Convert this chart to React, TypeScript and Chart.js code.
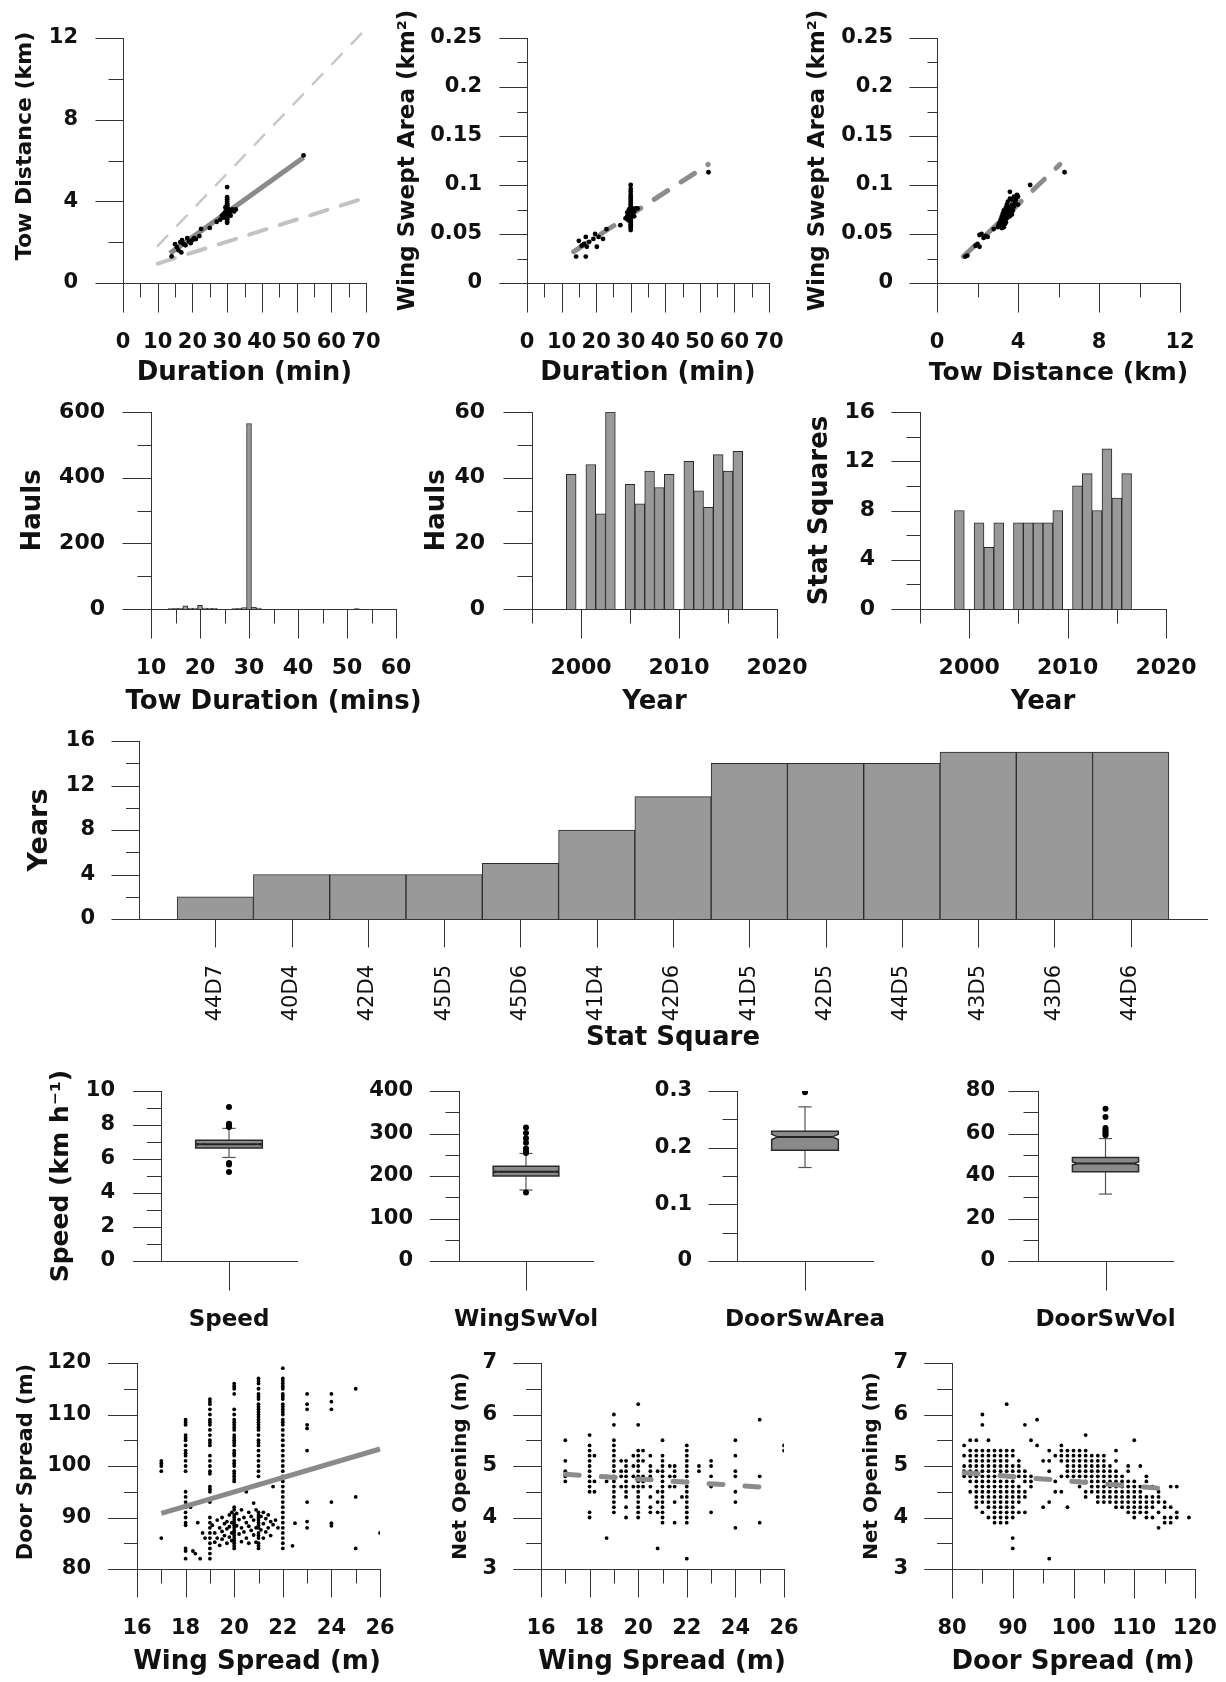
import React, { useEffect, useRef } from "react";
import { Chart, registerables } from "chart.js";
Chart.register(...registerables);

const FAMILY = "'DejaVu Sans', sans-serif";
const AXIS = "#333";
const TEXT = "#111";

// ---------------- DATA ----------------
// Row 1
const durDistUpper: [number, number][] = [[10, 1.82], [68.8, 12.24]];
const durDistLower: [number, number][] = [[10, 0.95], [68.5, 4.1]];
const durDistFit: [number, number][] = [[13.5, 1.45], [52, 6.15]];
const durDistPts: [number, number][] = [
  [14, 1.3], [15, 1.9], [15.5, 1.75], [16, 1.6], [16.5, 2.0], [16.8, 1.5], [17, 2.1], [17.5, 1.9], [18, 1.85], [18.5, 2.2],
  [19, 2.05], [19.5, 1.95], [20, 2.1], [20.5, 2.2], [21, 2.15], [22, 2.3], [22.5, 2.65], [25, 2.7], [27, 3.0], [28, 3.1],
  [28.5, 3.3], [29, 3.4], [29, 3.2], [29.5, 3.5], [29.5, 3.7], [30, 2.95], [30, 3.0], [30, 3.1], [30, 3.15], [30, 3.2],
  [30, 3.25], [30, 3.3], [30, 3.35], [30, 3.4], [30, 3.45], [30, 3.5], [30, 3.55], [30, 3.6], [30, 3.65], [30, 3.7],
  [30, 3.75], [30, 3.8], [30, 3.85], [30, 3.9], [30, 4.0], [30, 4.1], [30, 4.2], [30, 4.7], [30.5, 3.4], [30.5, 3.6],
  [31, 3.5], [31, 3.3], [31.5, 3.6], [32, 3.5], [32.5, 3.6], [52, 6.25],
];
const durAreaFit: [number, number][] = [[13.5, 0.032], [52.4, 0.121]];
const durAreaPts: [number, number][] = [
  [14.2, 0.027], [15, 0.043], [15.8, 0.038], [16.5, 0.04], [17, 0.047], [17, 0.027], [17.3, 0.037], [18, 0.042],
  [19.2, 0.045], [19.7, 0.05], [20.2, 0.037], [20.7, 0.047], [22, 0.045], [23, 0.055], [27, 0.059], [29.3, 0.064],
  [30, 0.054], [30, 0.056], [30, 0.058], [30, 0.06], [30, 0.062], [30, 0.064], [30, 0.066], [30, 0.068], [30, 0.07],
  [30, 0.072], [30, 0.074], [30, 0.076], [30, 0.078], [30, 0.08], [30, 0.082], [30, 0.084], [30, 0.086], [30, 0.088],
  [30, 0.09], [30, 0.093], [30, 0.096], [30, 0.1], [29, 0.068], [29, 0.072], [29.5, 0.075], [29.5, 0.066], [30.5, 0.07],
  [30.5, 0.076], [31, 0.073], [31, 0.068], [31.5, 0.076], [32, 0.076], [28.5, 0.066], [52.5, 0.113],
];
const distAreaFit: [number, number][] = [[1.3, 0.027], [6.07, 0.121]];
const distAreaPts: [number, number][] = [
  [1.4, 0.027], [1.5, 0.028], [1.9, 0.038], [2.0, 0.04], [2.1, 0.037], [2.1, 0.049], [2.2, 0.05], [2.3, 0.046],
  [2.4, 0.048], [2.5, 0.047], [2.8, 0.055], [3.0, 0.057], [3.05, 0.06], [3.1, 0.058], [3.1, 0.062], [3.15, 0.065],
  [3.2, 0.06], [3.2, 0.068], [3.25, 0.063], [3.25, 0.071], [3.3, 0.066], [3.3, 0.074], [3.35, 0.069], [3.35, 0.06],
  [3.4, 0.072], [3.4, 0.077], [3.45, 0.066], [3.45, 0.08], [3.5, 0.07], [3.5, 0.075], [3.5, 0.083], [3.55, 0.073],
  [3.6, 0.068], [3.6, 0.078], [3.6, 0.086], [3.6, 0.093], [3.65, 0.076], [3.7, 0.07], [3.7, 0.08], [3.7, 0.085],
  [3.75, 0.074], [3.8, 0.078], [3.8, 0.088], [3.85, 0.082], [3.9, 0.085], [3.95, 0.09], [4.0, 0.08], [4.0, 0.088],
  [3.2, 0.056], [3.3, 0.057], [3.4, 0.062], [4.6, 0.1], [6.3, 0.113],
];

// Row 2
const towDurBins = [14, 15, 16, 17, 18, 19, 20, 21, 22, 23, 27, 28, 29, 30, 31, 32, 52];
const towDurHauls = [1, 2, 2, 10, 2, 3, 11, 3, 2, 2, 1, 2, 4, 565, 6, 3, 1];
const surveyYears = [1999, 2001, 2002, 2003, 2005, 2006, 2007, 2008, 2009, 2011, 2012, 2013, 2014, 2015, 2016];
const haulsPerYear = [41, 44, 29, 60, 38, 32, 42, 37, 41, 45, 36, 31, 47, 42, 48];
const squaresPerYear = [8, 7, 5, 7, 7, 7, 7, 7, 8, 10, 11, 8, 13, 9, 11];

// Row 3
const statSquares = ["44D7", "40D4", "42D4", "45D5", "45D6", "41D4", "42D6", "41D5", "42D5", "44D5", "43D5", "43D6", "44D6"];
const yearsPerSquare = [2, 4, 4, 4, 5, 8, 11, 14, 14, 14, 15, 15, 15];

// Row 4 (box plots)
const boxNames = ["Speed", "WingSwVol", "DoorSwArea", "DoorSwVol"];
const boxLow = [6.09, 167, 0.165, 31.5];
const boxQ1 = [6.65, 200, 0.1955, 42];
const boxNotchLo = [6.83, 208.5, 0.2145, 45.2];
const boxMedian = [6.87, 210, 0.219, 45.9];
const boxNotchHi = [6.91, 211.5, 0.2235, 46.6];
const boxQ3 = [7.1, 223, 0.229, 48.7];
const boxHigh = [7.8, 253, 0.272, 57.6];
const boxOutliers = [
  [9.06, 8.08, 7.98, 7.88, 5.77, 5.68, 5.24],
  [314, 301, 289, 278, 264.6, 258, 254, 161],
  [0.298],
  [71.7, 67.8, 62.6, 61.5, 60.7, 59.9, 59.2],
];

// Row 5
const doorByWing: [number, number[]][] = [
  [17, [101, 100.5, 100, 99, 86]],
  [18, [109, 108.5, 108, 106, 105.5, 105, 104, 103, 102.5, 102, 101, 100, 99, 95, 94, 93, 92, 91, 90, 89, 88.5, 84, 83.5, 82]],
  [19, [113, 112.5, 112, 111, 110, 109, 108.5, 108, 107, 106, 105, 104.5, 104, 102, 101, 100, 99, 98.5, 96, 95.5, 95, 93, 90, 89, 88, 87, 86, 85, 84, 83, 82]],
  [20, [116, 115.5, 115, 114, 111, 110, 109, 108.5, 108, 107.5, 107, 106, 105.5, 105, 104.5, 104, 103, 102.5, 102, 101, 100.5, 100, 99, 98.5, 98, 97.5, 97]],
  [21, [117, 116.5, 116, 115, 114, 113.5, 113, 112, 111.5, 111, 110.5, 110, 109.5, 109, 108.5, 108, 107.5, 107, 106, 105, 104.5, 104, 103, 102, 101, 100, 99, 98, 96.5]],
  [22, [119, 117, 116.5, 116, 115.5, 115, 114, 113.5, 113, 112, 111.5, 111, 110.5, 110, 109, 108.5, 108, 107, 106, 105, 104, 103, 102, 101, 100, 99, 98, 97, 96, 95, 94, 93, 92, 91, 90, 89, 88, 87, 86, 85, 84]],
  [23, [114, 112, 111, 108, 107.3, 103, 93, 89.2, 88]],
  [24, [114, 112.5, 111, 93, 88.9, 88.4]],
  [25, [115, 94, 84]],
  [26, [87]],
];
const doorWingCloud: [number, number][] = [
  [18.2, 92], [18.3, 83.5], [18.4, 83], [18.6, 82], [18.7, 87], [18.5, 89], [18.8, 86],
  [19.1, 88.5], [19.2, 87], [19.2, 85.2], [19.3, 89.5], [19.3, 86], [19.4, 88], [19.4, 84.6], [19.5, 90], [19.5, 87.3],
  [19.5, 85.8], [19.6, 88.8], [19.6, 86.5], [19.7, 89.2], [19.7, 87.8], [19.7, 85], [19.8, 90.5], [19.8, 88.2], [19.8, 86.2],
  [19.9, 91], [19.9, 89], [19.9, 87], [19.9, 85.5], [20, 92], [20, 91.5], [20, 90.5], [20, 90], [20, 89.5], [20, 89],
  [20, 88.5], [20, 88], [20, 87.5], [20, 87], [20, 86.5], [20, 86], [20, 85.5], [20, 85], [20, 84.5], [20, 84],
  [20.1, 90.8], [20.1, 88.4], [20.2, 89.6], [20.2, 86.8], [20.3, 91.5], [20.3, 88], [20.3, 85.3], [20.4, 90], [20.4, 87.2],
  [20.5, 89], [20.5, 86], [20.5, 95], [20.6, 91], [20.6, 88.3], [20.6, 85], [20.7, 90.2], [20.7, 87.5], [20.8, 92.8],
  [20.8, 89.5], [20.8, 86.6], [20.9, 91.5], [20.9, 88], [20.9, 85.2], [21, 91], [21, 90.5], [21, 90], [21, 89.5], [21, 89],
  [21, 88.5], [21, 88], [21, 87], [21, 86.5], [21, 86], [21, 85], [21, 84.5], [21, 84], [21.1, 90.2], [21.1, 87.6],
  [21.2, 91], [21.2, 88.8], [21.2, 86], [21.3, 89.8], [21.3, 87.2], [21.4, 90.5], [21.4, 88], [21.5, 89.2], [21.5, 86.5],
  [21.6, 88.6], [21.6, 96], [21.7, 89.5], [21.8, 88], [22.4, 84.5], [22.5, 88.9],
];
const doorWingFit: [number, number][] = [[17, 90.8], [26, 103.3]];

const netByWing: [number, number[]][] = [
  [17, [5.5, 5.1, 4.9, 4.8, 4.7]],
  [18, [5.6, 5.4, 5.3, 5.2, 5.1, 5.0, 4.9, 4.8, 4.7, 4.6, 4.5, 4.1, 4.0]],
  [18.2, [5.2, 4.7, 4.5]],
  [18.7, [4.8, 4.7, 3.6]],
  [19, [6.0, 5.8, 5.5, 5.4, 5.3, 5.2, 5.1, 5.0, 4.9, 4.8, 4.7, 4.6, 4.5, 4.4, 4.3, 4.2, 4.1]],
  [19.3, [5.1, 4.9, 4.8, 4.6]],
  [19.5, [5.1, 5.0, 4.9, 4.8, 4.7, 4.6, 4.5, 4.4, 4.2, 4.0]],
  [19.8, [5.2, 5.0, 4.8, 4.6]],
  [20, [6.2, 5.8, 5.3, 5.2, 5.1, 5.0, 4.9, 4.8, 4.7, 4.6, 4.5, 4.4, 4.3, 4.2, 4.1, 4.0]],
  [20.2, [5.3, 5.1, 4.8, 4.7, 4.6]],
  [20.5, [5.2, 5.0, 4.9, 4.8, 4.6, 4.4, 4.2, 4.1]],
  [20.8, [4.9, 4.5, 4.3, 4.1, 3.4]],
  [21, [5.5, 5.2, 5.1, 5.0, 4.9, 4.8, 4.7, 4.6, 4.5, 4.4, 4.3, 4.2, 4.1, 4.0, 3.9]],
  [21.3, [5.0, 4.8, 4.6]],
  [21.5, [5.0, 4.9, 4.8, 4.6, 4.3, 3.9]],
  [21.8, [4.7, 4.4]],
  [22, [5.4, 5.3, 5.2, 5.1, 5.0, 4.9, 4.8, 4.7, 4.6, 4.5, 4.4, 4.3, 4.2, 4.1, 4.0, 3.9, 3.2]],
  [22.5, [5.0, 4.9]],
  [23, [5.1, 5.0, 4.8, 4.6, 4.1]],
  [24, [5.5, 5.2, 4.9, 4.8, 4.5, 4.3, 3.8]],
  [25, [5.9, 4.8, 3.9]],
  [26, [5.4, 5.3]],
];
const netWingFit: [number, number][] = [[17, 4.84], [25.4, 4.58]];

const netByDoor: [number, number[]][] = [
  [82, [5.4, 5.2, 5.0, 4.9, 4.8]],
  [83, [5.5, 5.3, 5.2, 5.1, 5.0, 4.9, 4.8, 4.7, 4.5]],
  [84, [5.5, 5.3, 5.2, 5.1, 5.0, 4.9, 4.8, 4.7, 4.6, 4.5, 4.4, 4.3, 4.2]],
  [85, [6.0, 5.8, 5.3, 5.2, 5.1, 5.0, 4.9, 4.8, 4.7, 4.6, 4.5, 4.4, 4.3, 4.1]],
  [86, [5.5, 5.3, 5.2, 5.1, 5.0, 4.9, 4.8, 4.7, 4.6, 4.5, 4.4, 4.3, 4.2, 4.0]],
  [87, [5.3, 5.2, 5.1, 5.0, 4.9, 4.8, 4.7, 4.6, 4.5, 4.4, 4.3, 4.2, 4.1, 4.0, 3.9]],
  [88, [5.3, 5.2, 5.1, 5.0, 4.9, 4.8, 4.7, 4.6, 4.5, 4.4, 4.3, 4.2, 4.1, 4.0, 3.9]],
  [89, [6.2, 5.3, 5.2, 5.1, 5.0, 4.9, 4.8, 4.7, 4.6, 4.5, 4.4, 4.3, 4.2, 4.1, 4.0, 3.9]],
  [90, [5.3, 5.2, 5.0, 4.9, 4.8, 4.7, 4.6, 4.5, 4.4, 4.3, 4.2, 4.1, 4.0, 3.6, 3.4]],
  [91, [5.1, 5.0, 4.9, 4.8, 4.6, 4.5, 4.4, 4.3, 4.1]],
  [92, [5.8, 4.9, 4.8, 4.7, 4.5, 4.4, 4.1]],
  [93, [5.5, 4.8, 4.7, 4.6]],
  [94, [5.9, 5.4]],
  [95, [5.1, 4.2]],
  [96, [5.3, 5.1, 4.9, 4.3, 3.2]],
  [97, [5.2, 4.7, 4.5]],
  [98, [5.4, 5.3, 5.2, 5.1, 4.8, 4.5]],
  [99, [5.3, 5.2, 5.1, 5.0, 4.9, 4.8, 4.2]],
  [100, [5.3, 5.2, 5.1, 5.0, 4.9, 4.8, 4.7]],
  [101, [5.3, 5.2, 5.1, 5.0, 4.9, 4.8, 4.7, 4.6]],
  [102, [5.6, 5.3, 5.2, 5.1, 5.0, 4.9, 4.8, 4.7, 4.5, 4.4]],
  [103, [5.2, 5.1, 5.0, 4.9, 4.8, 4.7, 4.6, 4.5]],
  [104, [5.2, 5.1, 5.0, 4.9, 4.8, 4.7, 4.6, 4.5, 4.4, 4.3]],
  [105, [5.2, 5.1, 5.0, 4.9, 4.8, 4.7, 4.6, 4.5, 4.4, 4.3]],
  [106, [5.0, 4.9, 4.8, 4.7, 4.6, 4.5, 4.4, 4.3]],
  [107, [5.3, 5.1, 4.9, 4.8, 4.7, 4.6, 4.5, 4.4, 4.3, 4.2]],
  [108, [4.8, 4.7, 4.6, 4.5, 4.4, 4.3, 4.2]],
  [109, [5.0, 4.9, 4.7, 4.6, 4.5, 4.4, 4.3, 4.2, 4.1]],
  [110, [5.5, 4.7, 4.6, 4.5, 4.4, 4.3, 4.2, 4.1, 4.0]],
  [111, [5.0, 4.6, 4.5, 4.4, 4.3, 4.2, 4.1]],
  [112, [4.8, 4.7, 4.4, 4.3, 4.2, 4.1, 4.0]],
  [113, [4.6, 4.4, 4.3, 4.2, 4.0]],
  [114, [4.5, 4.4, 4.3, 4.1, 3.8]],
  [115, [4.3, 4.2, 4.0, 3.9]],
  [116, [4.6, 4.2, 4.0, 3.9]],
  [117, [4.6, 4.1, 4.0]],
  [119, [4.0]],
];
const netDoorFit: [number, number][] = [[82, 4.87], [116, 4.55]];

// ---------------- HELPERS ----------------
type Ax = {
  min: number; max: number;
  major: number[]; minor?: number[];
  majorLen: number; minorLen?: number;
  pad: number; size: number; weight?: string;
  fmt?: (v: number) => string;
  rotate?: number;
  title?: string; titleSize?: number; titlePos?: number; titleAlong?: number;
};
type PanelSpec = {
  area: [number, number, number, number];
  m: [number, number, number, number];
  type: string;
  x: Ax; y: Ax;
  datasets: any[];
  extra?: any[];
};

const toXY = (a: [number, number][]) => a.map(([x, y]) => ({ x, y }));
const fromColumns = (cols: [number, number[]][]) => cols.flatMap(([x, ys]) => ys.map((y) => ({ x, y })));

function pts(data: any[], r = 2) {
  return { type: "scatter", data, pointRadius: r, pointHoverRadius: r, pointBackgroundColor: "#000", pointBorderWidth: 0, showLine: false };
}
function line(data: [number, number][], color: string, width: number, dash: number[] = []) {
  return {
    type: "line", data: toXY(data), borderColor: color, borderWidth: width, borderDash: dash,
    borderCapStyle: dash.length ? "round" : "butt", pointRadius: 0, fill: false, tension: 0, clip: false,
  };
}
function bars(xs: number[], ys: number[]) {
  return {
    type: "bar", data: xs.map((x, i) => ({ x, y: ys[i] })), backgroundColor: "#999", borderColor: "#2a2a2a",
    borderWidth: 1, barPercentage: 1, categoryPercentage: 1,
  };
}

function scaleOpts(a: Ax, axis: "x" | "y", spec: PanelSpec) {
  const [L, , , B] = spec.m;
  return {
    type: "linear", position: axis === "x" ? "bottom" : "left",
    min: a.min, max: a.max, offset: false,
    grid: { display: false, drawTicks: false },
    border: { display: true, color: AXIS, width: 1 },
    ticks: {
      autoSkip: false, padding: a.pad, maxRotation: a.rotate ?? 0, minRotation: a.rotate ?? 0,
      font: { family: FAMILY, size: a.size, weight: a.weight ?? "bold" }, color: TEXT,
      callback: (v: any) => (a.fmt ? a.fmt(Number(v)) : String(v)),
    },
    title: { display: false },
    afterBuildTicks: (s: any) => { s.ticks = a.major.map((v) => ({ value: v })); },
    afterFit: (s: any) => {
      if (axis === "x") s.height = B; else s.width = L;
      s.paddingLeft = 0; s.paddingRight = 0; s.paddingTop = 0; s.paddingBottom = 0;
    },
  };
}

// Tick marks (major long, minor short) and axis titles, placed from the chart's own scales
function axisDecor(spec: PanelSpec) {
  const xa = spec.x, ya = spec.y;
  const [x0, y0] = spec.area;
  const [L, T] = spec.m;
  return {
    id: "axisDecor",
    afterDraw(chart: any) {
      const { ctx, chartArea: ca, scales } = chart;
      ctx.save();
      ctx.strokeStyle = AXIS;
      ctx.lineWidth = 1;
      const seg = (a: number, b: number, c: number, d: number) => { ctx.beginPath(); ctx.moveTo(a, b); ctx.lineTo(c, d); ctx.stroke(); };
      const bx = Math.round(ca.bottom) + 0.5, lx = Math.round(ca.left) + 0.5;
      const doX = (vals: number[], len: number) => vals.forEach((v) => { const p = Math.round(scales.x.getPixelForValue(v)) + 0.5; seg(p, bx, p, bx + len); });
      const doY = (vals: number[], len: number) => vals.forEach((v) => { const p = Math.round(scales.y.getPixelForValue(v)) + 0.5; seg(lx, p, lx - len, p); });
      doX(xa.major, xa.majorLen); doX(xa.minor ?? [], xa.minorLen ?? 0);
      doY(ya.major, ya.majorLen); doY(ya.minor ?? [], ya.minorLen ?? 0);
      ctx.fillStyle = TEXT;
      ctx.textAlign = "center";
      ctx.textBaseline = "middle";
      if (xa.title) {
        ctx.font = `bold ${xa.titleSize ?? 24}px ${FAMILY}`;
        const cx = xa.titleAlong !== undefined ? xa.titleAlong - (x0 - L) : (ca.left + ca.right) / 2;
        ctx.fillText(xa.title, cx, (xa.titlePos ?? 0) - (y0 - T));
      }
      if (ya.title) {
        ctx.font = `bold ${ya.titleSize ?? 24}px ${FAMILY}`;
        const cy = ya.titleAlong !== undefined ? ya.titleAlong - (y0 - T) : (ca.top + ca.bottom) / 2;
        ctx.translate((ya.titlePos ?? 0) - (x0 - L), cy);
        ctx.rotate(-Math.PI / 2);
        ctx.fillText(ya.title, 0, 0);
      }
      ctx.restore();
    },
  };
}

const BOX_HALF = 0.49;
const STAPLE_FRAC = 0.2;
const NOTCH_FRAC = 0.18;
function boxDraw(i: number) {
  return {
    id: "boxDraw",
    beforeDatasetsDraw(chart: any) {
      const { ctx, scales: { x, y } } = chart;
      const cx = x.getPixelForValue(0);
      const hw = x.getPixelForValue(BOX_HALF) - cx;
      const sw = hw * STAPLE_FRAC, nw = hw * NOTCH_FRAC;
      const Y = (v: number) => y.getPixelForValue(v);
      const seg = (a: number, b: number, c: number, d: number) => { ctx.beginPath(); ctx.moveTo(a, b); ctx.lineTo(c, d); ctx.stroke(); };
      ctx.save();
      ctx.strokeStyle = "#555"; ctx.lineWidth = 1.2;
      seg(cx, Y(boxQ3[i]), cx, Y(boxHigh[i])); seg(cx, Y(boxQ1[i]), cx, Y(boxLow[i]));
      seg(cx - sw, Y(boxHigh[i]), cx + sw, Y(boxHigh[i])); seg(cx - sw, Y(boxLow[i]), cx + sw, Y(boxLow[i]));
      ctx.beginPath();
      ctx.moveTo(cx - hw, Y(boxQ1[i])); ctx.lineTo(cx - hw, Y(boxNotchLo[i])); ctx.lineTo(cx - hw + nw, Y(boxMedian[i]));
      ctx.lineTo(cx - hw, Y(boxNotchHi[i])); ctx.lineTo(cx - hw, Y(boxQ3[i])); ctx.lineTo(cx + hw, Y(boxQ3[i]));
      ctx.lineTo(cx + hw, Y(boxNotchHi[i])); ctx.lineTo(cx + hw - nw, Y(boxMedian[i])); ctx.lineTo(cx + hw, Y(boxNotchLo[i]));
      ctx.lineTo(cx + hw, Y(boxQ1[i])); ctx.closePath();
      ctx.fillStyle = "#8a8a8a"; ctx.fill();
      ctx.strokeStyle = "#2a2a2a"; ctx.lineWidth = 1.5; ctx.stroke();
      ctx.lineWidth = 2; ctx.strokeStyle = "#222";
      seg(cx - hw + nw, Y(boxMedian[i]), cx + hw - nw, Y(boxMedian[i]));
      ctx.restore();
    },
  };
}

function buildConfig(spec: PanelSpec): any {
  const [, T, R] = spec.m;
  return {
    type: spec.type,
    data: { datasets: spec.datasets },
    options: {
      responsive: false, animation: false, devicePixelRatio: 1, events: [],
      layout: { padding: { left: 0, top: T, right: R, bottom: 0 }, autoPadding: false },
      plugins: { legend: { display: false }, tooltip: { enabled: false } },
      scales: { x: scaleOpts(spec.x, "x", spec), y: scaleOpts(spec.y, "y", spec) },
    },
    plugins: [axisDecor(spec), ...(spec.extra ?? [])],
  };
}

function Panel({ spec }: { spec: PanelSpec }) {
  const ref = useRef<HTMLCanvasElement>(null);
  const [x0, y0, x1, y1] = spec.area;
  const [L, T, R, B] = spec.m;
  const W = x1 - x0 + L + R, H = y1 - y0 + T + B;
  useEffect(() => {
    const chart = new Chart(ref.current as HTMLCanvasElement, buildConfig(spec));
    return () => chart.destroy();
  }, []);
  return <canvas ref={ref} width={W} height={H} style={{ position: "absolute", left: x0 - L, top: y0 - T, width: W, height: H }} />;
}

// ---------------- PANELS ----------------
const durAxis = (pad: number): Ax => ({
  min: 0, max: 70, major: [0, 10, 20, 30, 40, 50, 60, 70], minor: [5, 15, 25, 35, 45, 55, 65],
  majorLen: 29, minorLen: 14, pad, size: 21, title: "Duration (min)", titleSize: 26, titlePos: 373,
});
const areaAxis = (pad: number, tx: number): Ax => ({
  min: 0, max: 0.25, major: [0, 0.05, 0.1, 0.15, 0.2, 0.25], minor: [0.025, 0.075, 0.125, 0.175, 0.225],
  majorLen: 28, minorLen: 10, pad, size: 21, title: "Wing Swept Area (km²)", titleSize: 23, titlePos: tx,
});
const yearAxis: Ax = {
  min: 1995, max: 2020, major: [2000, 2010, 2020], minor: [1995, 2005, 2015],
  majorLen: 29, minorLen: 14, pad: 46, size: 22, title: "Year", titleSize: 26, titlePos: 702,
};

const panels: PanelSpec[] = [
  {
    area: [123, 38, 366, 283], m: [123, 35, 30, 115], type: "scatter",
    x: durAxis(47.4),
    y: { min: 0, max: 12, major: [0, 4, 8, 12], minor: [2, 6, 10], majorLen: 28, minorLen: 15, pad: 45, size: 21, title: "Tow Distance (km)", titleSize: 22, titlePos: 25, titleAlong: 146 },
    datasets: [pts(toXY(durDistPts), 2.4), line(durDistFit, "#8a8a8a", 5), line(durDistUpper, "#c8c8c8", 2.5, [14, 14]), line(durDistLower, "#c2c2c2", 4, [18, 14])],
  },
  {
    area: [527, 38, 769, 283], m: [147, 36, 40, 115], type: "scatter",
    x: durAxis(47.4), y: areaAxis(45, 408),
    datasets: [pts(toXY(durAreaPts), 2.4), line(durAreaFit, "#8c8c8c", 5, [16, 16])],
  },
  {
    area: [937, 38, 1180, 283], m: [147, 36, 40, 115], type: "scatter",
    x: { min: 0, max: 12, major: [0, 4, 8, 12], minor: [2, 6, 10], majorLen: 29, minorLen: 14, pad: 47.4, size: 21, title: "Tow Distance (km)", titleSize: 25, titlePos: 373 },
    y: areaAxis(44, 818),
    datasets: [pts(toXY(distAreaPts), 2.4), line(distAreaFit, "#8c8c8c", 5, [16, 16])],
  },
  {
    area: [151, 412, 396, 609], m: [146, 25, 40, 115], type: "bar",
    x: { min: 10, max: 60, major: [10, 20, 30, 40, 50, 60], minor: [15, 25, 35, 45, 55], majorLen: 29, minorLen: 14, pad: 46, size: 22, title: "Tow Duration (mins)", titleSize: 26, titlePos: 702 },
    y: { min: 0, max: 600, major: [0, 200, 400, 600], minor: [100, 300, 500], majorLen: 29, minorLen: 14, pad: 46, size: 22, title: "Hauls", titleSize: 26, titlePos: 33 },
    datasets: [bars(towDurBins, towDurHauls)],
  },
  {
    area: [532, 412, 777, 609], m: [122, 25, 40, 115], type: "bar",
    x: yearAxis,
    y: { min: 0, max: 60, major: [0, 20, 40, 60], minor: [10, 30, 50], majorLen: 29, minorLen: 15, pad: 47, size: 22, title: "Hauls", titleSize: 26, titlePos: 437 },
    datasets: [bars(surveyYears, haulsPerYear)],
  },
  {
    area: [920, 412, 1166, 609], m: [125, 25, 45, 115], type: "bar",
    x: yearAxis,
    y: { min: 0, max: 16, major: [0, 4, 8, 12, 16], minor: [2, 6, 10, 14], majorLen: 29, minorLen: 14, pad: 45, size: 22, title: "Stat Squares", titleSize: 26, titlePos: 820 },
    datasets: [bars(surveyYears, squaresPerYear)],
  },
  {
    area: [139, 741, 1207, 919], m: [139, 20, 15, 140], type: "bar",
    x: {
      min: -1, max: statSquares.length, major: statSquares.map((_, i) => i), majorLen: 28, pad: 46, size: 21, weight: "normal",
      rotate: 90, fmt: (v) => statSquares[v] ?? "", title: "Stat Square", titleSize: 26, titlePos: 1038,
    },
    y: { min: 0, max: 16, major: [0, 4, 8, 12, 16], minor: [2, 6, 10, 14], majorLen: 28, minorLen: 13.5, pad: 44, size: 21, title: "Years", titleSize: 27, titlePos: 39.5 },
    datasets: [bars(statSquares.map((_, i) => i), yearsPerSquare)],
  },
];

const boxAreas: [number, number, number, number][] = [
  [161, 1091, 297, 1261], [459, 1091, 593, 1261], [737, 1091, 873, 1261], [1038, 1091, 1173, 1261],
];
const boxMargins: [number, number, number, number][] = [[131, 31, 20, 90], [100, 15, 20, 90], [90, 15, 20, 90], [85, 15, 30, 90]];
const boxY: Ax[] = [
  { min: 0, max: 10, major: [0, 2, 4, 6, 8, 10], minor: [1, 3, 5, 7, 9], majorLen: 28.4, minorLen: 14.6, pad: 46, size: 21, title: "Speed (km h⁻¹)", titleSize: 25, titlePos: 61 },
  { min: 0, max: 400, major: [0, 100, 200, 300, 400], minor: [50, 150, 250, 350], majorLen: 29.7, minorLen: 14, pad: 46, size: 21 },
  { min: 0, max: 0.3, major: [0, 0.1, 0.2, 0.3], minor: [0.05, 0.15, 0.25], majorLen: 29, minorLen: 15, pad: 45, size: 21 },
  { min: 0, max: 80, major: [0, 20, 40, 60, 80], minor: [10, 30, 50, 70], majorLen: 30, minorLen: 15, pad: 43, size: 21 },
];
boxNames.forEach((name, i) => {
  panels.push({
    area: boxAreas[i], m: boxMargins[i], type: "scatter",
    x: { min: -1, max: 1, major: [0], majorLen: 29, pad: 45.2, size: 23, fmt: () => name },
    y: boxY[i],
    datasets: [pts(boxOutliers[i].map((v) => ({ x: 0, y: v })), 3)],
    extra: [boxDraw(i)],
  });
});

const wingAxis = (along: number): Ax => ({
  min: 16, max: 26, major: [16, 18, 20, 22, 24, 26], minor: [17, 19, 21, 23, 25], majorLen: 28, minorLen: 14,
  pad: 46.7, size: 21, title: "Wing Spread (m)", titleSize: 26, titlePos: 1662, titleAlong: along,
});
const netAxis = (pad: number, tx: number): Ax => ({
  min: 3, max: 7, major: [3, 4, 5, 6, 7], minor: [3.5, 4.5, 5.5, 6.5], majorLen: 28.3, minorLen: 15.4,
  pad, size: 21, title: "Net Opening (m)", titleSize: 20, titlePos: tx,
});
panels.push(
  {
    area: [137, 1363, 380, 1569], m: [137, 25, 30, 113], type: "scatter",
    x: wingAxis(257),
    y: { min: 80, max: 120, major: [80, 90, 100, 110, 120], minor: [85, 95, 105, 115], majorLen: 29.4, minorLen: 13.4, pad: 46, size: 21, title: "Door Spread (m)", titleSize: 21, titlePos: 27, titleAlong: 1462 },
    datasets: [line(doorWingFit, "#8a8a8a", 5), pts([...fromColumns(doorByWing), ...toXY(doorWingCloud)], 1.9)],
  },
  {
    area: [541, 1363, 784, 1569], m: [101, 25, 30, 113], type: "scatter",
    x: wingAxis(662), y: netAxis(44, 461),
    datasets: [line(netWingFit, "#8c8c8c", 5, [14, 22]), pts(fromColumns(netByWing), 1.9)],
  },
  {
    area: [952, 1363, 1195, 1569], m: [97, 25, 31, 113], type: "scatter",
    x: { min: 80, max: 120, major: [80, 90, 100, 110, 120], minor: [85, 95, 105, 115], majorLen: 29, minorLen: 14, pad: 46.7, size: 21, title: "Door Spread (m)", titleSize: 26, titlePos: 1662, titleAlong: 1073 },
    y: netAxis(44, 872),
    datasets: [line(netDoorFit, "#8c8c8c", 5, [14, 22]), pts(fromColumns(netByDoor), 1.9)],
  },
);

export default function App() {
  return (
    <div style={{ position: "absolute", left: 0, top: 0, width: 1226, height: 1682, background: "#fff", overflow: "hidden" }}>
      {panels.map((p, i) => <Panel key={i} spec={p} />)}
    </div>
  );
}
